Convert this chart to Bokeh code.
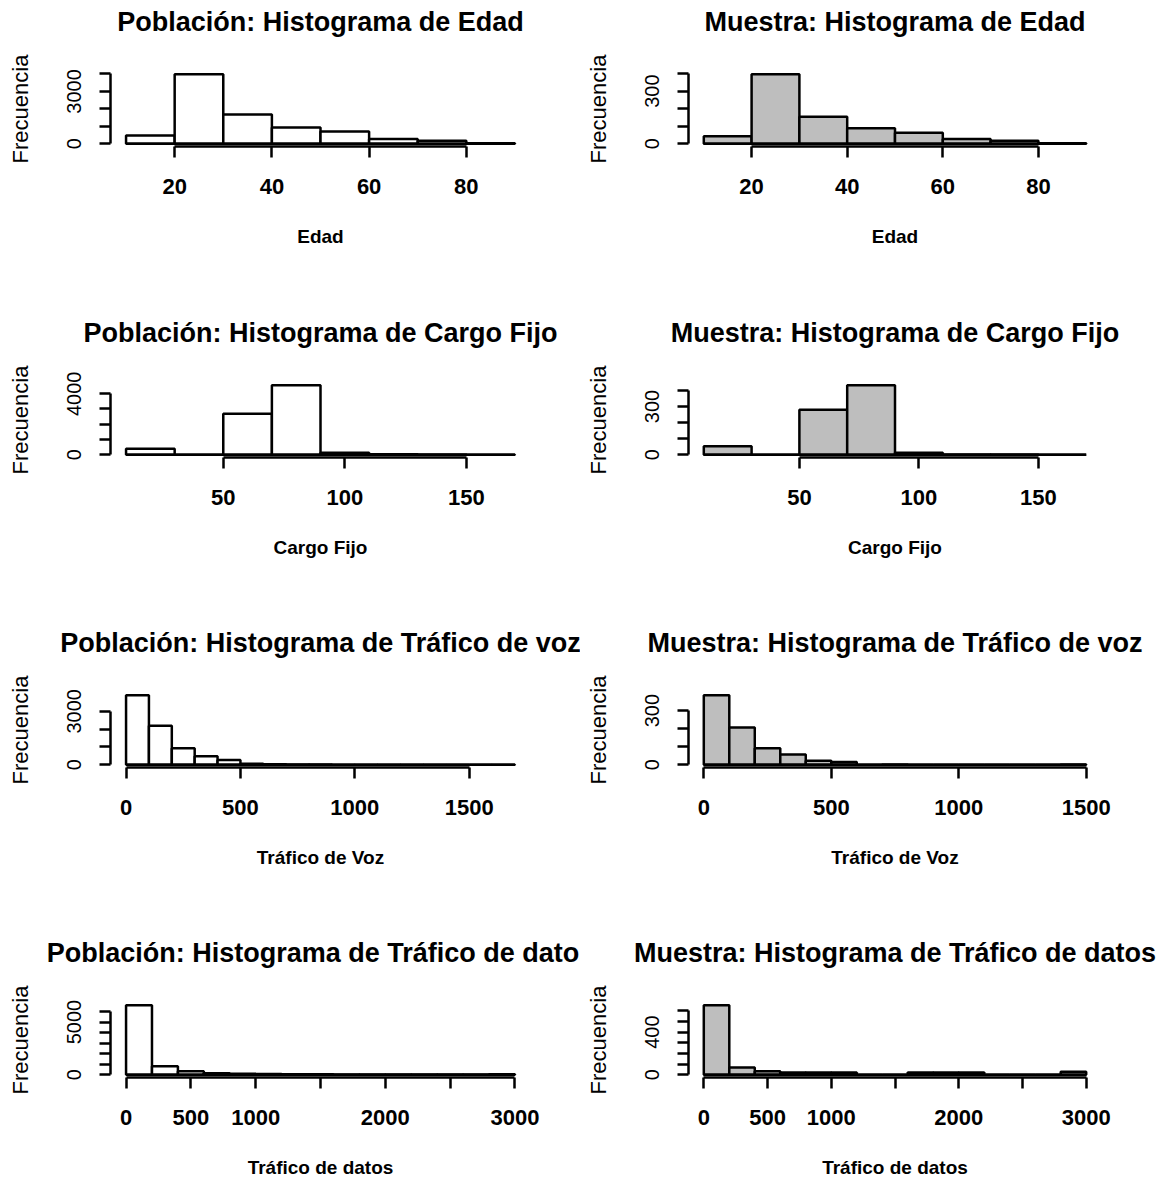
from bokeh.plotting import figure
from bokeh.layouts import column, row
from bokeh.models import Range1d, FixedTicker, LinearAxis
from bokeh.embed import file_html
from bokeh.resources import INLINE

FONT = "Liberation Sans"
LW = 2.5
GRAY = "#BEBEBE"

# ---------------- data ----------------
# Edad
edad_breaks = [10, 20, 30, 40, 50, 60, 70, 80, 90]
edad_pob = [476, 3980, 1676, 933, 705, 267, 170, 20]
edad_mue = [42, 396, 154, 88, 63, 27, 17, 2]
edad_xticks = [20, 40, 60, 80]
edad_xshow = [20, 40, 60, 80]
edad_yticks_pob = [0, 1000, 2000, 3000, 4000]
edad_yshow_pob = [0, 3000]
edad_yticks_mue = [0, 100, 200, 300, 400]
edad_yshow_mue = [0, 300]

# Cargo Fijo
cargo_breaks = [10, 30, 50, 70, 90, 110, 130, 150, 170]
cargo_pob = [400, 0, 2689, 4556, 133, 30, 20, 5]
cargo_mue = [53, 0, 280, 432, 13, 2, 2, 0]
cargo_xticks = [50, 100, 150]
cargo_xshow = [50, 100, 150]
cargo_yticks_pob = [0, 1000, 2000, 3000, 4000]
cargo_yshow_pob = [0, 4000]
cargo_yticks_mue = [0, 100, 200, 300, 400]
cargo_yshow_mue = [0, 300]

# Trafico de voz
voz_breaks_pob = [0, 100, 200, 300, 400, 500, 600, 700, 800, 900, 1000,
                  1100, 1200, 1300, 1400, 1500, 1600, 1700]
voz_pob = [3900, 2194, 919, 469, 263, 60, 25, 12, 8, 5, 3, 2, 1, 1, 0, 0, 1]
voz_breaks_mue = [0, 100, 200, 300, 400, 500, 600, 700, 800, 900, 1000,
                  1100, 1200, 1300, 1400, 1500]
voz_mue = [385, 207, 91, 57, 22, 15, 0, 1, 0, 0, 0, 0, 0, 0, 1]
voz_xticks = [0, 500, 1000, 1500]
voz_xshow = [0, 500, 1000, 1500]
voz_yticks_pob = [0, 1000, 2000, 3000]
voz_yshow_pob = [0, 3000]
voz_yticks_mue = [0, 100, 200, 300]
voz_yshow_mue = [0, 300]

# Trafico de datos
datos_breaks = [0, 200, 400, 600, 800, 1000, 1200, 1400, 1600, 1800, 2000,
                2200, 2400, 2600, 2800, 3000]
datos_pob = [6590, 796, 318, 150, 90, 60, 45, 35, 30, 25, 20, 18, 15, 12, 50]
datos_mue = [653, 69, 32, 22, 22, 22, 0, 0, 22, 22, 22, 0, 0, 0, 28]
datos_xticks = [0, 500, 1000, 1500, 2000, 2500, 3000]
datos_xshow = [0, 500, 1000, 2000, 3000]
datos_yticks_pob = [0, 1000, 2000, 3000, 4000, 5000, 6000]
datos_yshow_pob = [0, 5000]
datos_yticks_mue = [0, 100, 200, 300, 400, 500, 600]
datos_yshow_mue = [0, 400]

FH = 75  # frame height


def panel(breaks, counts, fill, xticks, xshow, yticks, yshow,
          title, xlabel, left_col, row_idx):
    fw = 420 if left_col else 413
    bl = 110 if left_col else 108
    br = 50 if left_col else 62
    bt = 71 if row_idx == 0 else 68
    if row_idx == 3:
        bb = 101
    elif row_idx == 0:
        bb = 168
    else:
        bb = 167
    x0, x1 = breaks[0], breaks[-1]
    dx = 0.04 * (x1 - x0)
    M = max(counts)
    dy = 0.04 * M
    p = figure(title=None, frame_width=fw, frame_height=FH,
               min_border_left=bl, min_border_right=br,
               min_border_top=bt, min_border_bottom=bb,
               x_range=Range1d(x0 - dx, x1 + dx),
               y_range=Range1d(-dy, M + dy),
               output_backend="svg", toolbar_location=None, tools="")
    p.grid.visible = False
    p.outline_line_color = None
    p.background_fill_color = "white"
    p.border_fill_color = "white"

    p.quad(left=breaks[:-1], right=breaks[1:], bottom=0, top=counts,
           fill_color=fill, line_color="black", line_width=LW)
    p.segment(x0=[x0], y0=[0], x1=[x1], y1=[0],
              line_color="black", line_width=LW)

    # x axis
    xa = p.xaxis[0]
    xa.ticker = FixedTicker(ticks=xticks)
    xa.bounds = (xticks[0], xticks[-1])
    xa.major_label_overrides = {t: "" for t in xticks if t not in xshow}
    xa.axis_line_width = LW
    xa.axis_line_color = "black"
    xa.major_tick_line_width = LW
    xa.major_tick_line_color = "black"
    xa.major_tick_out = 11
    xa.major_tick_in = 0
    xa.minor_tick_line_color = None
    xa.major_label_text_font = FONT
    xa.major_label_text_font_size = "22px"
    xa.major_label_text_font_style = "bold"
    xa.major_label_text_color = "black"
    xa.major_label_standoff = 21
    xa.axis_label = xlabel
    xa.axis_label_text_font = FONT
    xa.axis_label_text_font_size = "19px"
    xa.axis_label_text_font_style = "bold"
    xa.axis_label_text_color = "black"
    xa.axis_label_standoff = 29

    # y axis
    ya = p.yaxis[0]
    ya.ticker = FixedTicker(ticks=yticks)
    ya.bounds = (yticks[0], yticks[-1])
    ya.major_label_overrides = {t: "" for t in yticks if t not in yshow}
    ya.axis_line_width = LW
    ya.axis_line_color = "black"
    ya.major_tick_line_width = LW
    ya.major_tick_line_color = "black"
    ya.major_tick_out = 11
    ya.major_tick_in = 0
    ya.minor_tick_line_color = None
    ya.major_label_text_font = FONT
    ya.major_label_text_font_size = "20px"
    ya.major_label_text_color = "black"
    ya.major_label_orientation = "vertical"
    ya.major_label_standoff = 18
    ya.axis_label = "Frecuencia"
    ya.axis_label_text_font = FONT
    ya.axis_label_text_font_size = "22px"
    ya.axis_label_text_font_style = "normal"
    ya.axis_label_text_color = "black"
    ya.axis_label_standoff = 32

    # title drawn as the label of an empty axis above the frame
    ta = LinearAxis(ticker=FixedTicker(ticks=[]), axis_label=title,
                    axis_line_color=None, major_tick_line_color=None,
                    minor_tick_line_color=None, major_tick_out=0,
                    major_tick_in=0, minor_tick_out=0, minor_tick_in=0,
                    major_label_standoff=0, axis_label_standoff=35,
                    axis_label_text_font=FONT,
                    axis_label_text_font_size="27px",
                    axis_label_text_font_style="bold",
                    axis_label_text_color="black")
    p.add_layout(ta, "above")
    return p


p1 = panel(edad_breaks, edad_pob, "white", edad_xticks, edad_xshow,
           edad_yticks_pob, edad_yshow_pob,
           "Población: Histograma de Edad", "Edad", True, 0)
p2 = panel(edad_breaks, edad_mue, GRAY, edad_xticks, edad_xshow,
           edad_yticks_mue, edad_yshow_mue,
           "Muestra: Histograma de Edad", "Edad", False, 0)
p3 = panel(cargo_breaks, cargo_pob, "white", cargo_xticks, cargo_xshow,
           cargo_yticks_pob, cargo_yshow_pob,
           "Población: Histograma de Cargo Fijo", "Cargo Fijo", True, 1)
p4 = panel(cargo_breaks, cargo_mue, GRAY, cargo_xticks, cargo_xshow,
           cargo_yticks_mue, cargo_yshow_mue,
           "Muestra: Histograma de Cargo Fijo", "Cargo Fijo", False, 1)
p5 = panel(voz_breaks_pob, voz_pob, "white", voz_xticks, voz_xshow,
           voz_yticks_pob, voz_yshow_pob,
           "Población: Histograma de Tráfico de voz", "Tráfico de Voz", True, 2)
p6 = panel(voz_breaks_mue, voz_mue, GRAY, voz_xticks, voz_xshow,
           voz_yticks_mue, voz_yshow_mue,
           "Muestra: Histograma de Tráfico de voz", "Tráfico de Voz", False, 2)
p7 = panel(datos_breaks, datos_pob, "white", datos_xticks, datos_xshow,
           datos_yticks_pob, datos_yshow_pob,
           "Población: Histograma de Tráfico de datos", "Tráfico de datos", True, 3)
p8 = panel(datos_breaks, datos_mue, GRAY, datos_xticks, datos_xshow,
           datos_yticks_mue, datos_yshow_mue,
           "Muestra: Histograma de Tráfico de datos", "Tráfico de datos", False, 3)

layout = column(row(p1, p2), row(p3, p4), row(p5, p6), row(p7, p8))

open("out.html", "w").write(file_html(layout, INLINE))
